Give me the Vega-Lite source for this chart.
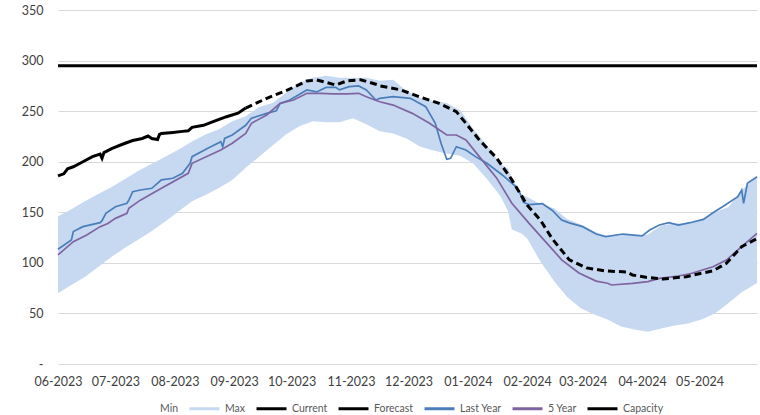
{
  "$schema": "https://vega.github.io/schema/vega-lite/v6.json",
  "width": 699,
  "height": 354,
  "autosize": {"type": "none"},
  "padding": {"left": 58, "top": 10, "right": 3, "bottom": 51},
  "background": "white",
  "config": {
    "view": {"stroke": null},
    "font": "Lato",
    "mark": {"invalid": "filter"},
    "axis": {"labelFont": "Lato", "labelFontSize": 12.5, "labelColor": "#404040", "titleFontSize": 0},
    "legend": {"labelFont": "Lato", "labelFontSize": 10.5, "labelColor": "#595959"}
  },
  "datasets": {
    "band": [
      {"d": "2023-06-01", "mn": 70, "mx": 146},
      {"d": "2023-06-08", "mn": 78, "mx": 153},
      {"d": "2023-06-15", "mn": 86, "mx": 161},
      {"d": "2023-06-22", "mn": 96, "mx": 168},
      {"d": "2023-06-29", "mn": 106, "mx": 175},
      {"d": "2023-07-06", "mn": 115, "mx": 183},
      {"d": "2023-07-13", "mn": 123, "mx": 191},
      {"d": "2023-07-20", "mn": 131.5, "mx": 198},
      {"d": "2023-07-27", "mn": 141, "mx": 205},
      {"d": "2023-08-03", "mn": 151, "mx": 212},
      {"d": "2023-08-10", "mn": 161, "mx": 220},
      {"d": "2023-08-17", "mn": 167, "mx": 227},
      {"d": "2023-08-24", "mn": 174, "mx": 232},
      {"d": "2023-08-31", "mn": 182, "mx": 240},
      {"d": "2023-09-07", "mn": 194, "mx": 245},
      {"d": "2023-09-14", "mn": 205, "mx": 254},
      {"d": "2023-09-21", "mn": 216, "mx": 258},
      {"d": "2023-09-28", "mn": 227, "mx": 268},
      {"d": "2023-10-05", "mn": 235, "mx": 278},
      {"d": "2023-10-12", "mn": 240, "mx": 283},
      {"d": "2023-10-19", "mn": 239, "mx": 285},
      {"d": "2023-10-26", "mn": 239, "mx": 283},
      {"d": "2023-11-02", "mn": 243, "mx": 283},
      {"d": "2023-11-09", "mn": 237, "mx": 283},
      {"d": "2023-11-16", "mn": 230, "mx": 280},
      {"d": "2023-11-23", "mn": 228, "mx": 281},
      {"d": "2023-11-30", "mn": 223, "mx": 270},
      {"d": "2023-12-07", "mn": 215, "mx": 263},
      {"d": "2023-12-14", "mn": 211, "mx": 260},
      {"d": "2023-12-21", "mn": 208, "mx": 258},
      {"d": "2023-12-28", "mn": 206, "mx": 251},
      {"d": "2024-01-04", "mn": 198, "mx": 232},
      {"d": "2024-01-11", "mn": 183, "mx": 216},
      {"d": "2024-01-18", "mn": 166, "mx": 198},
      {"d": "2024-01-22", "mn": 151, "mx": 193},
      {"d": "2024-01-24", "mn": 133, "mx": 184},
      {"d": "2024-01-29", "mn": 129, "mx": 168},
      {"d": "2024-02-01", "mn": 124, "mx": 165},
      {"d": "2024-02-08", "mn": 101, "mx": 158},
      {"d": "2024-02-15", "mn": 82, "mx": 154},
      {"d": "2024-02-22", "mn": 66, "mx": 143},
      {"d": "2024-02-29", "mn": 55, "mx": 138},
      {"d": "2024-03-07", "mn": 49, "mx": 131},
      {"d": "2024-03-14", "mn": 44, "mx": 126},
      {"d": "2024-03-21", "mn": 37, "mx": 128},
      {"d": "2024-03-28", "mn": 34, "mx": 127},
      {"d": "2024-04-04", "mn": 32, "mx": 128},
      {"d": "2024-04-11", "mn": 35, "mx": 137},
      {"d": "2024-04-18", "mn": 38, "mx": 139},
      {"d": "2024-04-25", "mn": 40, "mx": 139},
      {"d": "2024-05-02", "mn": 44, "mx": 142},
      {"d": "2024-05-09", "mn": 50, "mx": 150},
      {"d": "2024-05-16", "mn": 60, "mx": 155},
      {"d": "2024-05-23", "mn": 71, "mx": 172},
      {"d": "2024-05-31", "mn": 80, "mx": 185}
    ],
    "current": [
      {"d": "2023-06-01", "v": 186},
      {"d": "2023-06-04", "v": 188},
      {"d": "2023-06-06", "v": 193},
      {"d": "2023-06-09", "v": 195},
      {"d": "2023-06-14", "v": 200},
      {"d": "2023-06-19", "v": 205},
      {"d": "2023-06-23", "v": 207.5},
      {"d": "2023-06-24", "v": 203.5},
      {"d": "2023-06-25", "v": 209},
      {"d": "2023-06-29", "v": 213},
      {"d": "2023-07-05", "v": 217.5},
      {"d": "2023-07-10", "v": 221},
      {"d": "2023-07-15", "v": 223},
      {"d": "2023-07-18", "v": 225.4},
      {"d": "2023-07-20", "v": 223},
      {"d": "2023-07-23", "v": 222},
      {"d": "2023-07-24", "v": 227},
      {"d": "2023-07-25", "v": 228},
      {"d": "2023-07-31", "v": 229},
      {"d": "2023-08-05", "v": 230},
      {"d": "2023-08-08", "v": 230.6},
      {"d": "2023-08-10", "v": 234},
      {"d": "2023-08-16", "v": 236},
      {"d": "2023-08-21", "v": 239.6},
      {"d": "2023-08-28", "v": 244.5},
      {"d": "2023-09-03", "v": 248},
      {"d": "2023-09-07", "v": 253}
    ],
    "forecast": [
      {"d": "2023-09-07", "v": 253},
      {"d": "2023-09-18", "v": 262.7},
      {"d": "2023-09-29", "v": 271},
      {"d": "2023-10-09", "v": 279.8},
      {"d": "2023-10-14", "v": 280.8},
      {"d": "2023-10-18", "v": 279},
      {"d": "2023-10-24", "v": 275.8},
      {"d": "2023-10-30", "v": 280},
      {"d": "2023-11-06", "v": 281},
      {"d": "2023-11-15", "v": 276},
      {"d": "2023-11-16", "v": 275},
      {"d": "2023-11-27", "v": 271},
      {"d": "2023-12-07", "v": 264},
      {"d": "2023-12-17", "v": 257.7},
      {"d": "2023-12-26", "v": 249.5},
      {"d": "2023-12-31", "v": 238},
      {"d": "2024-01-07", "v": 221.5},
      {"d": "2024-01-16", "v": 203.7},
      {"d": "2024-01-24", "v": 182},
      {"d": "2024-02-01", "v": 157},
      {"d": "2024-02-08", "v": 142},
      {"d": "2024-02-14", "v": 124},
      {"d": "2024-02-23", "v": 103},
      {"d": "2024-03-03", "v": 95},
      {"d": "2024-03-13", "v": 92},
      {"d": "2024-03-24", "v": 91},
      {"d": "2024-03-27", "v": 88},
      {"d": "2024-04-03", "v": 85.7},
      {"d": "2024-04-12", "v": 84},
      {"d": "2024-04-24", "v": 86.3},
      {"d": "2024-05-08", "v": 92.2},
      {"d": "2024-05-15", "v": 99.5},
      {"d": "2024-05-23", "v": 116},
      {"d": "2024-05-31", "v": 124}
    ],
    "lastYear": [
      {"d": "2023-06-01", "v": 113.4},
      {"d": "2023-06-08", "v": 122.6},
      {"d": "2023-06-09", "v": 131},
      {"d": "2023-06-14", "v": 135.8},
      {"d": "2023-06-23", "v": 139.7},
      {"d": "2023-06-24", "v": 141.7},
      {"d": "2023-06-26", "v": 149},
      {"d": "2023-07-01", "v": 155.5},
      {"d": "2023-07-07", "v": 158.9},
      {"d": "2023-07-08", "v": 162},
      {"d": "2023-07-10", "v": 170.4},
      {"d": "2023-07-14", "v": 172},
      {"d": "2023-07-20", "v": 173.7},
      {"d": "2023-07-25", "v": 182},
      {"d": "2023-07-31", "v": 183.6},
      {"d": "2023-08-05", "v": 188.5},
      {"d": "2023-08-09", "v": 198.4},
      {"d": "2023-08-10", "v": 205},
      {"d": "2023-08-18", "v": 213},
      {"d": "2023-08-25", "v": 219.8},
      {"d": "2023-08-26", "v": 214.8},
      {"d": "2023-08-27", "v": 223},
      {"d": "2023-08-31", "v": 226.4},
      {"d": "2023-09-07", "v": 236},
      {"d": "2023-09-10", "v": 243},
      {"d": "2023-09-18", "v": 247.8},
      {"d": "2023-09-23", "v": 250.4},
      {"d": "2023-09-25", "v": 257.7},
      {"d": "2023-09-30", "v": 261},
      {"d": "2023-10-09", "v": 271},
      {"d": "2023-10-14", "v": 269},
      {"d": "2023-10-19", "v": 273.5},
      {"d": "2023-10-24", "v": 273.5},
      {"d": "2023-10-26", "v": 271},
      {"d": "2023-10-31", "v": 274.2},
      {"d": "2023-11-05", "v": 274.9},
      {"d": "2023-11-09", "v": 271},
      {"d": "2023-11-14", "v": 261},
      {"d": "2023-11-16", "v": 262.7},
      {"d": "2023-11-23", "v": 264.3},
      {"d": "2023-12-02", "v": 262.7},
      {"d": "2023-12-10", "v": 254.4},
      {"d": "2023-12-15", "v": 238},
      {"d": "2023-12-18", "v": 218.2},
      {"d": "2023-12-21", "v": 202.4},
      {"d": "2023-12-23", "v": 203.4},
      {"d": "2023-12-26", "v": 214.8},
      {"d": "2023-12-31", "v": 211.6},
      {"d": "2024-01-05", "v": 205},
      {"d": "2024-01-11", "v": 198.4},
      {"d": "2024-01-19", "v": 186.9},
      {"d": "2024-01-26", "v": 175.3},
      {"d": "2024-01-28", "v": 170},
      {"d": "2024-01-30", "v": 160},
      {"d": "2024-02-02", "v": 157.5},
      {"d": "2024-02-09", "v": 158.5},
      {"d": "2024-02-14", "v": 152},
      {"d": "2024-02-19", "v": 142.4},
      {"d": "2024-02-23", "v": 139.5},
      {"d": "2024-03-01", "v": 135.8},
      {"d": "2024-03-08", "v": 128.5},
      {"d": "2024-03-13", "v": 125.9},
      {"d": "2024-03-22", "v": 128.5},
      {"d": "2024-04-01", "v": 126.6},
      {"d": "2024-04-05", "v": 132.5},
      {"d": "2024-04-10", "v": 137.4},
      {"d": "2024-04-15", "v": 139.7},
      {"d": "2024-04-20", "v": 137.4},
      {"d": "2024-04-26", "v": 139.7},
      {"d": "2024-05-03", "v": 143},
      {"d": "2024-05-08", "v": 149.6},
      {"d": "2024-05-13", "v": 155.5},
      {"d": "2024-05-21", "v": 165.4},
      {"d": "2024-05-23", "v": 172},
      {"d": "2024-05-24", "v": 158.9},
      {"d": "2024-05-26", "v": 178.7},
      {"d": "2024-05-31", "v": 185.2}
    ],
    "fiveYear": [
      {"d": "2023-06-01", "v": 107.8},
      {"d": "2023-06-09", "v": 121},
      {"d": "2023-06-16", "v": 127.5},
      {"d": "2023-06-23", "v": 135.8},
      {"d": "2023-06-27", "v": 139},
      {"d": "2023-07-01", "v": 144},
      {"d": "2023-07-07", "v": 149},
      {"d": "2023-07-08", "v": 154},
      {"d": "2023-07-14", "v": 162},
      {"d": "2023-07-25", "v": 173.7},
      {"d": "2023-08-08", "v": 188.5},
      {"d": "2023-08-10", "v": 198.4},
      {"d": "2023-08-25", "v": 211.6},
      {"d": "2023-08-31", "v": 218.2},
      {"d": "2023-09-07", "v": 228},
      {"d": "2023-09-10", "v": 238},
      {"d": "2023-09-18", "v": 246.2},
      {"d": "2023-09-25", "v": 257.7},
      {"d": "2023-10-02", "v": 261},
      {"d": "2023-10-09", "v": 267.6},
      {"d": "2023-10-16", "v": 267.6},
      {"d": "2023-10-23", "v": 267},
      {"d": "2023-10-30", "v": 267},
      {"d": "2023-11-05", "v": 267.6},
      {"d": "2023-11-09", "v": 264.3},
      {"d": "2023-11-16", "v": 259.3},
      {"d": "2023-11-23", "v": 256},
      {"d": "2023-12-03", "v": 247.8},
      {"d": "2023-12-12", "v": 238},
      {"d": "2023-12-21", "v": 226.4},
      {"d": "2023-12-26", "v": 226.4},
      {"d": "2023-12-31", "v": 221.5},
      {"d": "2024-01-07", "v": 205},
      {"d": "2024-01-16", "v": 184},
      {"d": "2024-01-24", "v": 159},
      {"d": "2024-02-02", "v": 139},
      {"d": "2024-02-11", "v": 120},
      {"d": "2024-02-19", "v": 103},
      {"d": "2024-02-28", "v": 90},
      {"d": "2024-03-08", "v": 82},
      {"d": "2024-03-14", "v": 79.8},
      {"d": "2024-03-16", "v": 78.1},
      {"d": "2024-03-27", "v": 79.8},
      {"d": "2024-04-04", "v": 81.4},
      {"d": "2024-04-10", "v": 84.7},
      {"d": "2024-04-20", "v": 87},
      {"d": "2024-04-27", "v": 89.7},
      {"d": "2024-05-08", "v": 96.2},
      {"d": "2024-05-15", "v": 102.8},
      {"d": "2024-05-23", "v": 116},
      {"d": "2024-05-31", "v": 129.2}
    ]
  },
  "encoding": {
    "x": {
      "field": "d",
      "type": "temporal",
      "scale": {"domain": [{"year": 2023, "month": 6, "date": 1}, {"year": 2024, "month": 5, "date": 31}]},
      "axis": {
        "title": null,
        "format": "%m-%Y",
        "values": [
          {"year": 2023, "month": 6, "date": 1},
          {"year": 2023, "month": 7, "date": 1},
          {"year": 2023, "month": 8, "date": 1},
          {"year": 2023, "month": 9, "date": 1},
          {"year": 2023, "month": 10, "date": 1},
          {"year": 2023, "month": 11, "date": 1},
          {"year": 2023, "month": 12, "date": 1},
          {"year": 2024, "month": 1, "date": 1},
          {"year": 2024, "month": 2, "date": 1},
          {"year": 2024, "month": 3, "date": 1},
          {"year": 2024, "month": 4, "date": 1},
          {"year": 2024, "month": 5, "date": 1}
        ],
        "domain": false,
        "ticks": false,
        "grid": false,
        "labelPadding": 11,
        "labelFlush": false,
        "labelOverlap": false,
        "labelBound": false
      }
    }
  },
  "layer": [
    {
      "data": {"name": "band", "format": {"parse": {"d": "date:'%Y-%m-%d'"}}},
      "mark": {"type": "area", "opacity": 1},
      "encoding": {
        "y": {
          "field": "mn",
          "type": "quantitative",
          "scale": {"domain": [0, 350], "nice": false},
          "axis": {
            "title": null,
            "values": [0, 50, 100, 150, 200, 250, 300, 350],
            "labelExpr": "datum.value === 0 ? '-' : datum.label",
            "domain": false,
            "ticks": false,
            "grid": true,
            "gridColor": "#d9d9d9",
            "gridWidth": 1,
            "labelPadding": 15
          }
        },
        "y2": {"field": "mx"},
        "color": {
          "datum": "Max",
          "type": "nominal",
          "scale": {
            "domain": ["Min", "Max", "Current", "Forecast", "Last Year", "5 Year", "Capacity"],
            "range": ["#ffffff", "#c6d9f0", "#000000", "#000000", "#4a7ebb", "#8064a2", "#000000"]
          },
          "legend": {
            "title": null,
            "orient": "none",
            "direction": "horizontal",
            "legendX": 65,
            "legendY": 382,
            "columns": 7,
            "columnPadding": 4,
            "labelOffset": 4,
            "symbolType": "stroke",
            "symbolSize": 900,
            "symbolStrokeWidth": 3,
            "padding": 0,
            "encode": {
              "symbols": {
                "shape": {"signal": "datum.value === 'Max' ? 'M-1,-0.2H1V0.2H-1Z' : (datum.value === 'Forecast' ? 'M-1,0H-0.48M-0.26,0H0.26M0.48,0H1' : 'M-1,0H1')"},
                "size": {"value": 900},
                "fill": {"signal": "datum.value === 'Max' ? '#c6d9f0' : 'transparent'"},
                "stroke": {"signal": "datum.value === 'Max' || datum.value === 'Min' ? 'transparent' : (datum.value === 'Last Year' ? '#4a7ebb' : (datum.value === '5 Year' ? '#8064a2' : '#000000'))"},
                "strokeWidth": {"signal": "datum.value === 'Last Year' || datum.value === '5 Year' ? 2 : 3"},
                "opacity": {"value": 1}
              }
            }
          }
        }
      }
    },
    {
      "data": {"name": "lastYear", "format": {"parse": {"d": "date:'%Y-%m-%d'"}}},
      "mark": {"type": "line", "strokeWidth": 1.7},
      "encoding": {
        "y": {"field": "v", "type": "quantitative"},
        "color": {"datum": "Last Year", "type": "nominal"}
      }
    },
    {
      "data": {"name": "fiveYear", "format": {"parse": {"d": "date:'%Y-%m-%d'"}}},
      "mark": {"type": "line", "strokeWidth": 1.7},
      "encoding": {
        "y": {"field": "v", "type": "quantitative"},
        "color": {"datum": "5 Year", "type": "nominal"}
      }
    },
    {
      "data": {"name": "current", "format": {"parse": {"d": "date:'%Y-%m-%d'"}}},
      "mark": {"type": "line", "strokeWidth": 3},
      "encoding": {
        "y": {"field": "v", "type": "quantitative"},
        "color": {"datum": "Current", "type": "nominal"}
      }
    },
    {
      "data": {"name": "forecast", "format": {"parse": {"d": "date:'%Y-%m-%d'"}}},
      "mark": {"type": "line", "strokeWidth": 3, "strokeDash": [7, 4]},
      "encoding": {
        "y": {"field": "v", "type": "quantitative"},
        "color": {"datum": "Forecast", "type": "nominal"}
      }
    },
    {
      "data": {"values": [{"cap": 295}]},
      "mark": {"type": "rule", "strokeWidth": 3},
      "encoding": {
        "x": null,
        "y": {"field": "cap", "type": "quantitative"},
        "color": {"datum": "Capacity", "type": "nominal"}
      }
    }
  ]
}
